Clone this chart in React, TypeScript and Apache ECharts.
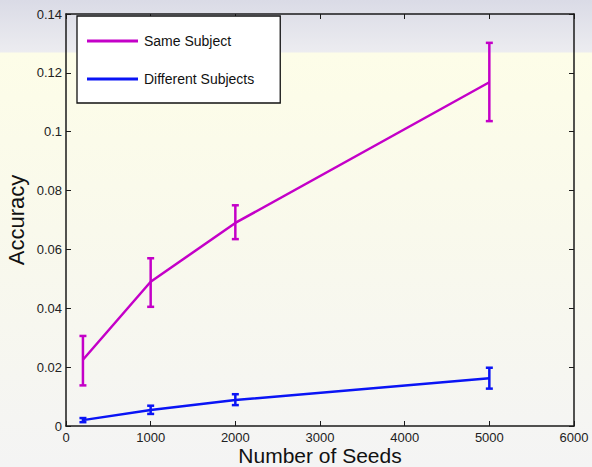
import React, { useEffect, useRef } from "react";
import * as echarts from "echarts";

const seeds = [200, 1000, 2000, 5000];
const sameMean = [0.0225, 0.049, 0.069, 0.1168];
const sameLow = [0.0138, 0.0405, 0.0635, 0.1036];
const sameHigh = [0.0306, 0.057, 0.075, 0.1302];
const diffMean = [0.002, 0.0054, 0.0088, 0.0162];
const diffLow = [0.0013, 0.0041, 0.0071, 0.0127];
const diffHigh = [0.0027, 0.0069, 0.0108, 0.0198];
const seriesNames = ["Same Subject", "Different Subjects"];
const colors = ["#c400c8", "#0a14f5"];

const FONT = "Liberation Sans, Arial, sans-serif";

function errSeries(name: string, color: string, low: number[], high: number[]) {
  return {
    type: "custom",
    name: name + " err",
    data: seeds.map((x, i) => [x, low[i], high[i]]),
    encode: { x: 0, y: [1, 2] },
    z: 3,
    renderItem: (params: any, api: any) => {
      const x = api.value(0);
      const lo = api.coord([x, api.value(1)]);
      const hi = api.coord([x, api.value(2)]);
      const w = 3.5;
      const st = { stroke: color, lineWidth: 2.5 };
      return {
        type: "group",
        children: [
          { type: "line", shape: { x1: lo[0], y1: lo[1], x2: hi[0], y2: hi[1] }, style: st },
          { type: "line", shape: { x1: lo[0] - w, y1: lo[1], x2: lo[0] + w, y2: lo[1] }, style: st },
          { type: "line", shape: { x1: hi[0] - w, y1: hi[1], x2: hi[0] + w, y2: hi[1] }, style: st },
        ],
      };
    },
  };
}

export default function App() {
  const ref = useRef<HTMLDivElement>(null);
  useEffect(() => {
    if (!ref.current) return;
    const chart = echarts.init(ref.current, null, { renderer: "svg" });
    const axisCommon = {
      axisLine: { show: true, onZero: false, lineStyle: { color: "#1a1a1a", width: 1.5 } },
      axisTick: { show: true, inside: true, length: 5, lineStyle: { color: "#1a1a1a" } },
      splitLine: { show: false },
    };
    chart.setOption({
      animation: false,
      backgroundColor: "transparent",
      grid: { left: 66, right: 18, top: 14, bottom: 41, show: false, containLabel: false, outerBoundsMode: "none" },
      legend: {
        left: 77,
        top: 16,
        orient: "vertical",
        backgroundColor: "#ffffff",
        borderColor: "#111",
        borderWidth: 1.3,
        padding: [17, 26, 16, 10],
        itemGap: 22,
        itemWidth: 51,
        itemHeight: 3,
        data: seriesNames.map((n, i) => ({ name: n, icon: "rect", itemStyle: { color: colors[i] } })),
        textStyle: { fontFamily: FONT, fontSize: 14, color: "#111", lineHeight: 16, padding: [0, 0, 0, 1] },
      },
      xAxis: [
        {
          type: "value",
          min: 0,
          max: 6000,
          interval: 1000,
          name: "Number of Seeds",
          nameLocation: "middle",
          nameGap: 21,
          nameMoveOverlap: false,
          nameTextStyle: { fontFamily: FONT, fontSize: 21, lineHeight: 17, color: "#111" },
          axisLabel: { fontFamily: FONT, fontSize: 13, lineHeight: 13, color: "#222", margin: 5, formatter: (v: number) => String(v) },
          ...axisCommon,
        },
        {
          type: "value",
          position: "top",
          min: 0,
          max: 6000,
          interval: 1000,
          axisLabel: { show: false },
          ...axisCommon,
        },
      ],
      yAxis: [
        {
          type: "value",
          min: 0,
          max: 0.14,
          interval: 0.02,
          name: "Accuracy",
          nameLocation: "middle",
          nameGap: 39,
          nameMoveOverlap: false,
          nameTextStyle: { fontFamily: FONT, fontSize: 22, color: "#111" },
          axisLabel: { fontFamily: FONT, fontSize: 13, color: "#222", margin: 4, formatter: (v: number) => String(Math.round(v * 100) / 100) },
          ...axisCommon,
        },
        {
          type: "value",
          position: "right",
          min: 0,
          max: 0.14,
          interval: 0.02,
          axisLabel: { show: false },
          ...axisCommon,
        },
      ],
      series: [
        {
          type: "line",
          name: seriesNames[0],
          data: seeds.map((x, i) => [x, sameMean[i]]),
          showSymbol: false,
          lineStyle: { color: colors[0], width: 2.5 },
          itemStyle: { color: colors[0] },
          z: 4,
        },
        {
          type: "line",
          name: seriesNames[1],
          data: seeds.map((x, i) => [x, diffMean[i]]),
          showSymbol: false,
          lineStyle: { color: colors[1], width: 2.5 },
          itemStyle: { color: colors[1] },
          z: 4,
        },
        errSeries(seriesNames[0], colors[0], sameLow, sameHigh),
        errSeries(seriesNames[1], colors[1], diffLow, diffHigh),
      ],
    });
    return () => chart.dispose();
  }, []);
  return (
    <div
      style={{
        position: "absolute",
        left: 0,
        top: 0,
        width: 592,
        height: 467,
        background:
          "linear-gradient(to bottom, #dadbe6 0px, #ececf0 52px, #fdfde8 53px, #f9f9ec 230px, #f4f4f4 467px)",
      }}
    >
      <div ref={ref} style={{ width: 592, height: 467 }} />
    </div>
  );
}
